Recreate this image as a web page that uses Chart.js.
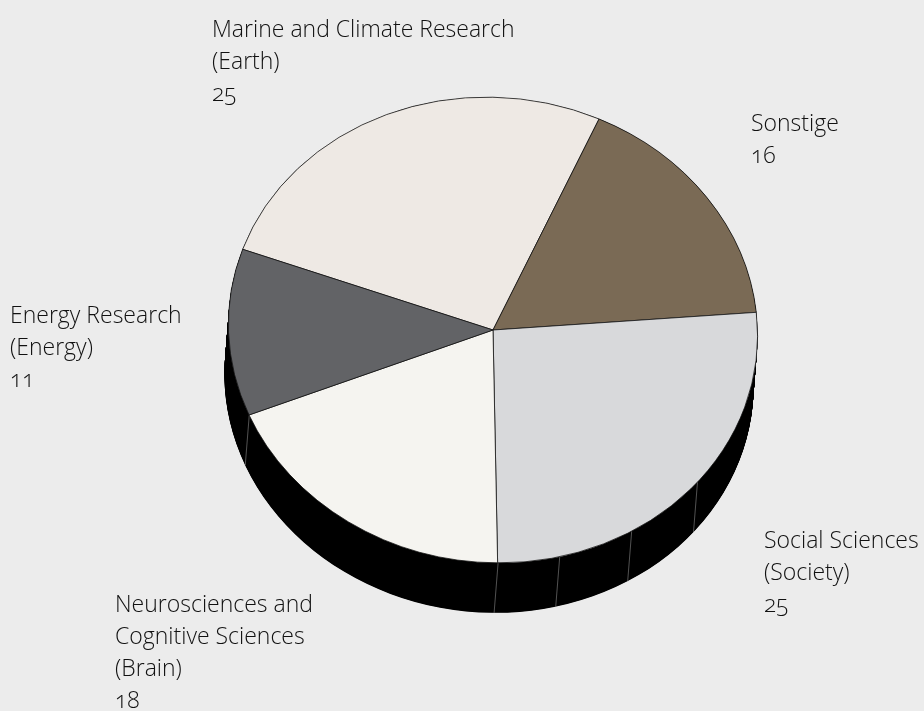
<!DOCTYPE html>
<html>
<head>
<meta charset="utf-8">
<script src="https://cdn.jsdelivr.net/npm/chart.js@4"></script>
<style>
    html, body { margin: 0; padding: 0; background: #ececec; }
    #wrap { position: relative; width: 924px; height: 711px; overflow: hidden; }
    #pie { position: absolute; left: 0; top: 0; }
    .lbl {
        position: absolute;
        font-family: "Open Sans", sans-serif;
        font-weight: 300;
        font-size: 23px;
        line-height: 32px;
        color: #111;
        white-space: nowrap;
        font-feature-settings: "onum" 1;
    }
    #l0 { left: 212px; top: 12px; }
    #l1 { left: 751px; top: 106px; }
    #l2 { left: 764px; top: 523px; }
    #l3 { left: 115px; top: 587px; }
    #l4 { left: 10px; top: 298px; }
</style>
</head>
<body>
<div id="wrap">
    <canvas id="pie" width="924" height="711"></canvas>
    <div class="lbl" id="l0"></div>
    <div class="lbl" id="l1"></div>
    <div class="lbl" id="l2"></div>
    <div class="lbl" id="l3"></div>
    <div class="lbl" id="l4"></div>
</div>
<script>
// values
const categories = [
    ["Marine and Climate Research", "(Earth)"],
    ["Sonstige"],
    ["Social Sciences", "(Society)"],
    ["Neurosciences and", "Cognitive Sciences", "(Brain)"],
    ["Energy Research", "(Energy)"]
];
const values = [25, 16, 25, 18, 11];
const colors = ["#eee9e4", "#7a6a55", "#d8d9db", "#f5f4f0", "#626366"];

// visible seams on the side wall, degrees clockwise from the top
const seamAngles = [130, 149, 166, 179.5, 247.7];

const tilt = 0.88;      // squash of the top face
const shear = 0.012;    // the ellipse leans slightly
const depthX = -4;      // side wall offset
const depthY = 50;

// labels
categories.forEach((lines, i) => {
    document.getElementById("l" + i).innerHTML = lines.concat(values[i]).join("<br>");
});

function applyTilt(ctx, x, y) {
    ctx.translate(x, y);
    ctx.transform(1, shear, shear * tilt, tilt, 0, 0);
}

// Squashes the pie into an ellipse and draws the black wall below it
const tiltPlugin = {
    id: "tilt",
    beforeDatasetsDraw(chart) {
        const ctx = chart.ctx;
        const arc = chart.getDatasetMeta(0).data[0];
        const cx = arc.x, cy = arc.y, r = arc.outerRadius;

        // side wall
        ctx.fillStyle = "#000";
        for (let i = 0; i <= 100; i++) {
            ctx.save();
            applyTilt(ctx, cx + depthX * i / 100, cy + depthY * i / 100);
            ctx.beginPath();
            ctx.arc(0, 0, r, 0, Math.PI * 2);
            ctx.fill();
            ctx.restore();
        }
        // seams
        ctx.save();
        ctx.strokeStyle = "#8a8a8a";
        ctx.lineWidth = 0.6;
        seamAngles.forEach(a => {
            const t = a * Math.PI / 180;
            const px = r * Math.sin(t);
            const py = -r * Math.cos(t);
            const x = cx + px + shear * tilt * py;
            const y = cy + shear * px + tilt * py;
            ctx.beginPath();
            ctx.moveTo(x, y);
            ctx.lineTo(x + depthX, y + depthY);
            ctx.stroke();
        });
        ctx.restore();

        ctx.save();
        applyTilt(ctx, cx, cy);
        ctx.translate(-cx, -cy);
    },
    afterDatasetsDraw(chart) {
        chart.ctx.restore();
    }
};

new Chart(document.getElementById("pie").getContext("2d"), {
    type: "pie",
    data: {
        labels: categories.map(c => c.join(" ")),
        datasets: [{
            data: values,
            backgroundColor: colors,
            borderColor: "#111",
            borderWidth: 0.8,
            borderAlign: "center"
        }]
    },
    options: {
        responsive: false,
        animation: false,
        rotation: 289.5,
        layout: { padding: { left: 228, right: 166, top: 65, bottom: 116 } },
        plugins: {
            legend: { display: false },
            tooltip: { enabled: false }
        }
    },
    plugins: [tiltPlugin]
});
</script>
</body>
</html>
